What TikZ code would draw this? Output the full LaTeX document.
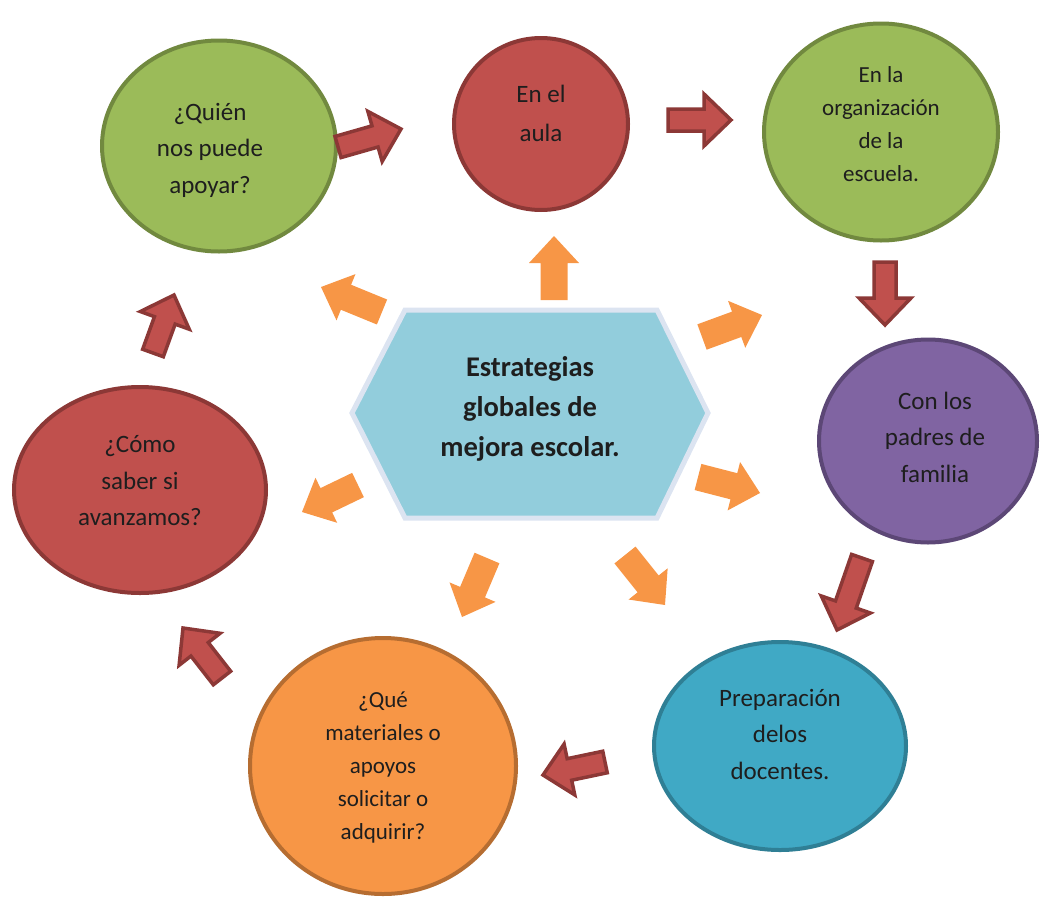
\documentclass[tikz,border=0pt]{standalone}
\usepackage{fontspec}
\setmainfont{Carlito}
\usetikzlibrary{shapes.geometric,calc}

\definecolor{grnF}{HTML}{9BBB59}\definecolor{grnD}{HTML}{71893F}
\definecolor{redF}{HTML}{C0504D}\definecolor{redD}{HTML}{8C3836}
\definecolor{purF}{HTML}{8064A2}\definecolor{purD}{HTML}{5C4776}
\definecolor{tealF}{HTML}{40A9C5}\definecolor{tealD}{HTML}{2F7F95}
\definecolor{orgF}{HTML}{F79646}\definecolor{orgD}{HTML}{B66D31}
\definecolor{hexF}{HTML}{92CDDC}\definecolor{hexD}{HTML}{DCE4F1}
\definecolor{ink}{HTML}{1E1E1E}

% block arrow: #1 style, #2 shaft half-width, #3 head half-width, #4 head length, #5 tail, #6 tip
\newcommand\blockarr[6]{%
  \draw[#1] ($(#5)!#2!90:(#6)$) -- ($(#6)!#4!(#5)!#2!90:(#6)$)
    -- ($(#6)!#4!(#5)!#3!90:(#6)$) -- (#6)
    -- ($(#6)!#4!(#5)!#3!-90:(#6)$) -- ($(#6)!#4!(#5)!#2!-90:(#6)$)
    -- ($(#5)!#2!-90:(#6)$) -- cycle;}

\begin{document}
\begin{tikzpicture}[x=1pt,y=-1pt,
  ell/.style={ellipse,line width=4pt,inner sep=0pt},
  txt/.style={align=center,text=ink,font=\fontsize{25}{36.5}\selectfont},
  txts/.style={align=center,text=ink,font=\fontsize{23}{33}\selectfont},
  redarr/.style={fill=redF,draw=redD,line width=3.5pt,line join=miter},
  orgarr/.style={fill=orgF,draw=none}]
\useasboundingbox (0,0) rectangle (1046,897);

% outer ring of questions
\node[ell,fill=grnF,draw=grnD,minimum width=234,minimum height=211] (e1) at (219,146) {};
\node[ell,fill=redF,draw=redD,minimum width=174,minimum height=172] (e2) at (541,124) {};
\node[ell,fill=grnF,draw=grnD,minimum width=234,minimum height=217] (e3) at (881,132) {};
\node[ell,fill=purF,draw=purD,minimum width=218,minimum height=203] (e4) at (928,441) {};
\node[ell,fill=tealF,draw=tealD,minimum width=252,minimum height=208] (e5) at (780,746) {};
\node[ell,fill=orgF,draw=orgD,minimum width=266,minimum height=256] (e6) at (383,766) {};
\node[ell,fill=redF,draw=redD,minimum width=252,minimum height=206] (e7) at (140,490) {};

\node[txt] (t1) at (210,150) {¿Quién\\nos puede\\apoyar?};
\node[txt,font=\fontsize{25}{39}\selectfont] (t2) at (541,113.5) {En el\\aula};
\node[txts] (t3) at (881,124.5) {En la\\organización\\de la\\escuela.};
\node[txt] (t4) at (935,437) {Con los\\padres de\\familia};
\node[txt] (t5) at (780,734) {Preparación\\delos\\docentes.};
\node[txts] (t6) at (383,767.5) {¿Qué\\materiales o\\apoyos\\solicitar o\\adquirir?};
\node[txt] (t7) at (140,481) {¿Cómo\\saber si\\avanzamos?};

% central hexagon
\coordinate (h1) at (352,413); \coordinate (h2) at (405,310); \coordinate (h3) at (657,310);
\coordinate (h4) at (708,413); \coordinate (h5) at (657,518); \coordinate (h6) at (405,518);
\draw[fill=hexF,draw=hexD,line width=5pt,line join=miter] (h1)--(h2)--(h3)--(h4)--(h5)--(h6)--cycle;
\node[align=center,text=ink,font=\bfseries\fontsize{28.5}{40}\selectfont] (hx) at (530,409)
  {Estrategias\\globales de\\mejora escolar.};

% red arrows around the cycle
\coordinate (a1) at (338,147); \coordinate (b1) at (401,129);
\coordinate (a2) at (668,120); \coordinate (b2) at (731,120);
\coordinate (a3) at (885,262); \coordinate (b3) at (885,325);
\coordinate (a4) at (862,558); \coordinate (b4) at (837,630);
\coordinate (a5) at (605,762); \coordinate (b5) at (543,775);
\coordinate (a6) at (222,678); \coordinate (b6) at (183,628);
\coordinate (a7) at (153,353); \coordinate (b7) at (174,295);
\foreach \i in {1,...,7}{\blockarr{redarr}{11pt}{26pt}{27pt}{a\i}{b\i}}

% orange arrows leaving the hexagon
\coordinate (c1) at (554,300); \coordinate (d1) at (554,236);
\coordinate (c2) at (702,337); \coordinate (d2) at (762,315);
\coordinate (c3) at (698,477); \coordinate (d3) at (760,493);
\coordinate (c4) at (625,555); \coordinate (d4) at (665,605);
\coordinate (c5) at (487,558); \coordinate (d5) at (462,617);
\coordinate (c6) at (358,485); \coordinate (d6) at (302,512);
\coordinate (c7) at (382,312); \coordinate (d7) at (321,287);
\foreach \i in {1,...,7}{\blockarr{orgarr}{13.5pt}{25pt}{27pt}{c\i}{d\i}}
\end{tikzpicture}
\end{document}
